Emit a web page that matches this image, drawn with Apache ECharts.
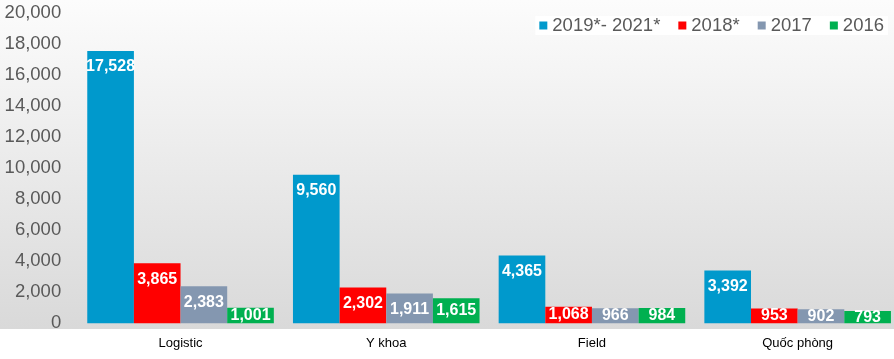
<!DOCTYPE html>
<html>
<head>
<meta charset="utf-8">
<script src="https://cdn.jsdelivr.net/npm/echarts@6/dist/echarts.min.js"></script>
<style>
html,body{margin:0;padding:0;background:#ffffff;}
#chart{width:894px;height:359px;}
</style>
</head>
<body>
<div id="chart"></div>
<script>
// ---- data ----
const categories = ['Logistic', 'Y khoa', 'Field', 'Quốc phòng'];
const seriesNames = ['2019*- 2021*', '2018*', '2017', '2016'];
const values2019_2021 = [17528, 9560, 4365, 3392];
const values2018 = [3865, 2302, 1068, 953];
const values2017 = [2383, 1911, 966, 902];
const values2016 = [1001, 1615, 984, 793];
const yTicks = [0, 2000, 4000, 6000, 8000, 10000, 12000, 14000, 16000, 18000, 20000];

// ---- styles ----
const colors = ['#0099CC', '#FF0000', '#8497B0', '#00B050'];
const FONT = '"Liberation Sans", Arial, sans-serif';
const fmt = v => Number(v).toLocaleString('en-US');

const chart = echarts.init(document.getElementById('chart'), null, {renderer: 'canvas'});

function makeSeries(name, vals, color) {
  return {
    name: name,
    type: 'bar',
    barGap: '0%',
    barCategoryGap: '9.3%',
    itemStyle: {color: color},
    label: {
      show: true,
      position: 'insideTop',
      distance: 8,
      color: '#ffffff',
      fontFamily: FONT,
      fontWeight: 'bold',
      fontSize: 16,
      formatter: p => fmt(p.value)
    },
    data: vals.map(v => v < 1800 ? {value: v, label: {position: 'inside'}} : {value: v})
  };
}

const option = {
  animation: false,
  backgroundColor: '#ffffff',
  textStyle: {fontFamily: FONT},
  graphic: [{
    type: 'rect',
    z: -10,
    silent: true,
    shape: {x: 0, y: 0, width: 894, height: 329},
    style: {
      fill: new echarts.graphic.LinearGradient(0, 0, 0, 1, [
        {offset: 0, color: '#fcfcfc'},
        {offset: 1, color: '#d9d9d9'}
      ])
    }
  }],
  legend: {
    right: 6,
    top: 16,
    itemWidth: 8,
    itemHeight: 8,
    itemGap: 18,
    icon: 'rect',
    backgroundColor: '#ffffff',
    padding: [0, 4, 0, 4],
    textStyle: {fontFamily: FONT, fontSize: 18.5, color: '#595959', padding: [1, 0, 0, 0]},
    data: seriesNames
  },
  grid: {left: 77.7, top: 12.6, width: 822.8, height: 310.7, containLabel: false, outerBoundsMode: 'none'},
  xAxis: {
    type: 'category',
    data: categories,
    axisLine: {show: false},
    axisTick: {show: false},
    axisLabel: {color: '#000000', fontSize: 13, fontFamily: FONT, margin: 14}
  },
  yAxis: {
    type: 'value',
    min: yTicks[0],
    max: yTicks[yTicks.length - 1],
    interval: yTicks[1] - yTicks[0],
    splitLine: {show: false},
    axisLine: {show: false},
    axisTick: {show: false},
    axisLabel: {color: '#595959', fontSize: 18.5, fontFamily: FONT, margin: 16.5, formatter: v => fmt(v)}
  },
  series: [
    makeSeries(seriesNames[0], values2019_2021, colors[0]),
    makeSeries(seriesNames[1], values2018, colors[1]),
    makeSeries(seriesNames[2], values2017, colors[2]),
    makeSeries(seriesNames[3], values2016, colors[3])
  ]
};
chart.setOption(option);
</script>
</body>
</html>
